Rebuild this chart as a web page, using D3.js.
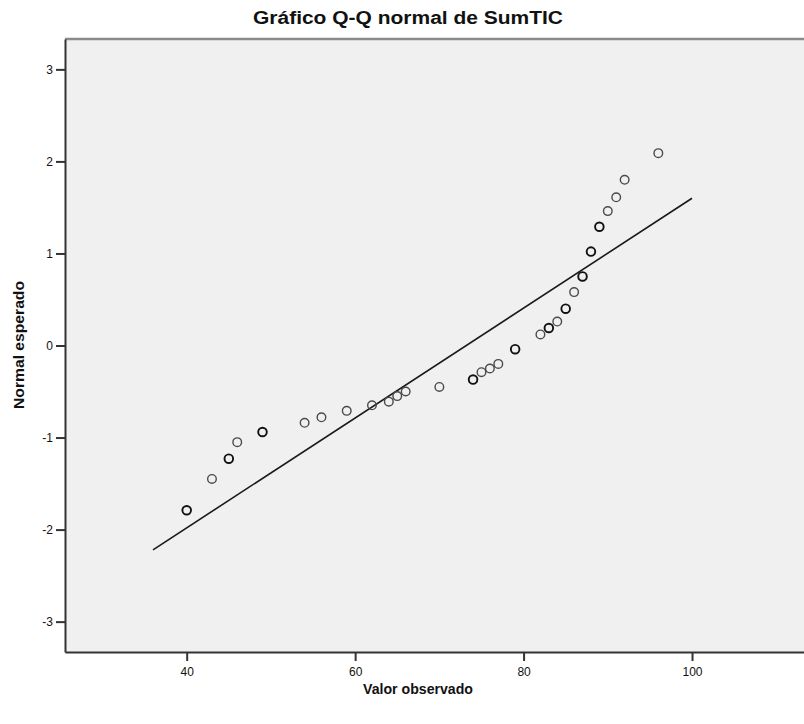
<!DOCTYPE html>
<html>
<head>
<meta charset="utf-8">
<script src="https://cdn.jsdelivr.net/npm/d3@7"></script>
<style>
  body { margin: 0; background: #fff; overflow: hidden; }
  svg { display: block; overflow: hidden; }
  text { font-family: "Liberation Sans", Arial, sans-serif; fill: #111; }
</style>
</head>
<body>
<svg id="qq" width="804" height="724"></svg>
<script>
const observed = [40, 43, 45, 46, 49, 54, 56, 59, 62, 64, 65, 66, 70, 74, 75, 76, 77, 79,
                  82, 83, 84, 85, 86, 87, 88, 89, 90, 91, 92, 96];
const expected = [-1.79, -1.45, -1.23, -1.05, -0.94, -0.84, -0.78, -0.71, -0.65, -0.61, -0.55, -0.50,
                  -0.45, -0.37, -0.29, -0.25, -0.20, -0.04, 0.12, 0.19, 0.26, 0.40, 0.58, 0.75,
                  1.02, 1.29, 1.46, 1.61, 1.80, 2.09];
// cases sharing the value (drawn on top of each other)
const counts = [2, 1, 2, 1, 2, 1, 1, 1, 1, 1, 1, 1, 1, 2, 1, 1, 1, 2, 1, 2, 1, 2, 1, 2, 2, 2, 1, 1, 1, 1];

const lineX = [36, 100];
const lineY = [-2.22, 1.60];

const xTicks = [40, 60, 80, 100];
const yTicks = [-3, -2, -1, 0, 1, 2, 3];

const svg = d3.select("#qq");

const plotLeft = 65, plotRight = 840, plotTop = 39, plotBottom = 652;

// 8.42 px per unit on x, plot cut off at the right edge of the picture
const x = d3.scaleLinear().domain([25.55, 25.55 + (plotRight - plotLeft) / 8.422]).range([plotLeft, plotRight]);
const y = d3.scaleLinear().domain([-3.33, 3.33]).range([plotBottom, plotTop]);

// plot background
svg.append("rect")
    .attr("x", plotLeft).attr("y", plotTop)
    .attr("width", plotRight - plotLeft).attr("height", plotBottom - plotTop)
    .attr("fill", "#f0f0f0");

// top frame
svg.append("line")
    .attr("x1", plotLeft).attr("x2", plotRight)
    .attr("y1", plotTop).attr("y2", plotTop)
    .attr("stroke", "#8a8a8a").attr("stroke-width", 2.5);

// axes (plain hyphen for negatives, like the original)
const fmt = d => String(d);
const xAxis = svg.append("g")
    .attr("transform", `translate(0,${plotBottom})`)
    .call(d3.axisBottom(x).tickValues(xTicks).tickFormat(fmt)
        .tickSize(9).tickSizeOuter(0).tickPadding(6));
const yAxis = svg.append("g")
    .attr("transform", `translate(${plotLeft},0)`)
    .call(d3.axisLeft(y).tickValues(yTicks).tickFormat(fmt)
        .tickSize(9).tickSizeOuter(0).tickPadding(3));

[xAxis, yAxis].forEach(g => {
    g.select(".domain").attr("stroke", "#333").attr("stroke-width", 2);
    g.selectAll(".tick line").attr("stroke", "#333").attr("stroke-width", 2);
    g.selectAll(".tick text")
        .style("font-family", "'Liberation Sans', Arial, sans-serif")
        .style("font-size", "12px")
        .attr("fill", "#222");
});

// reference line
svg.append("line")
    .attr("x1", x(lineX[0])).attr("y1", y(lineY[0]))
    .attr("x2", x(lineX[1])).attr("y2", y(lineY[1]))
    .attr("stroke", "#1a1a1a").attr("stroke-width", 1.6);

// points
const pts = observed.map((v, i) => ({ v: v, e: expected[i], n: counts[i] }));
svg.append("g").selectAll("circle")
    .data(pts)
    .join("circle")
    .attr("cx", d => x(d.v))
    .attr("cy", d => y(d.e))
    .attr("r", 4.3)
    .attr("fill", "none")
    .attr("stroke", d => d.n > 1 ? "#111" : "#4a4a4a")
    .attr("stroke-width", d => d.n > 1 ? 1.9 : 1.4);

// title and axis labels
svg.append("text")
    .attr("x", 408).attr("y", 24)
    .attr("text-anchor", "middle")
    .attr("font-weight", "bold")
    .attr("textLength", 310)
    .attr("lengthAdjust", "spacingAndGlyphs")
    .style("font-size", "18px")
    .text("Gráfico Q-Q normal de SumTIC");

svg.append("text")
    .attr("x", 418).attr("y", 694)
    .attr("text-anchor", "middle")
    .attr("font-weight", "bold")
    .attr("textLength", 110)
    .attr("lengthAdjust", "spacingAndGlyphs")
    .style("font-size", "15px")
    .text("Valor observado");

svg.append("text")
    .attr("transform", "translate(24,345) rotate(-90)")
    .attr("text-anchor", "middle")
    .attr("font-weight", "bold")
    .attr("textLength", 128)
    .attr("lengthAdjust", "spacingAndGlyphs")
    .style("font-size", "15px")
    .text("Normal esperado");
</script>
</body>
</html>
